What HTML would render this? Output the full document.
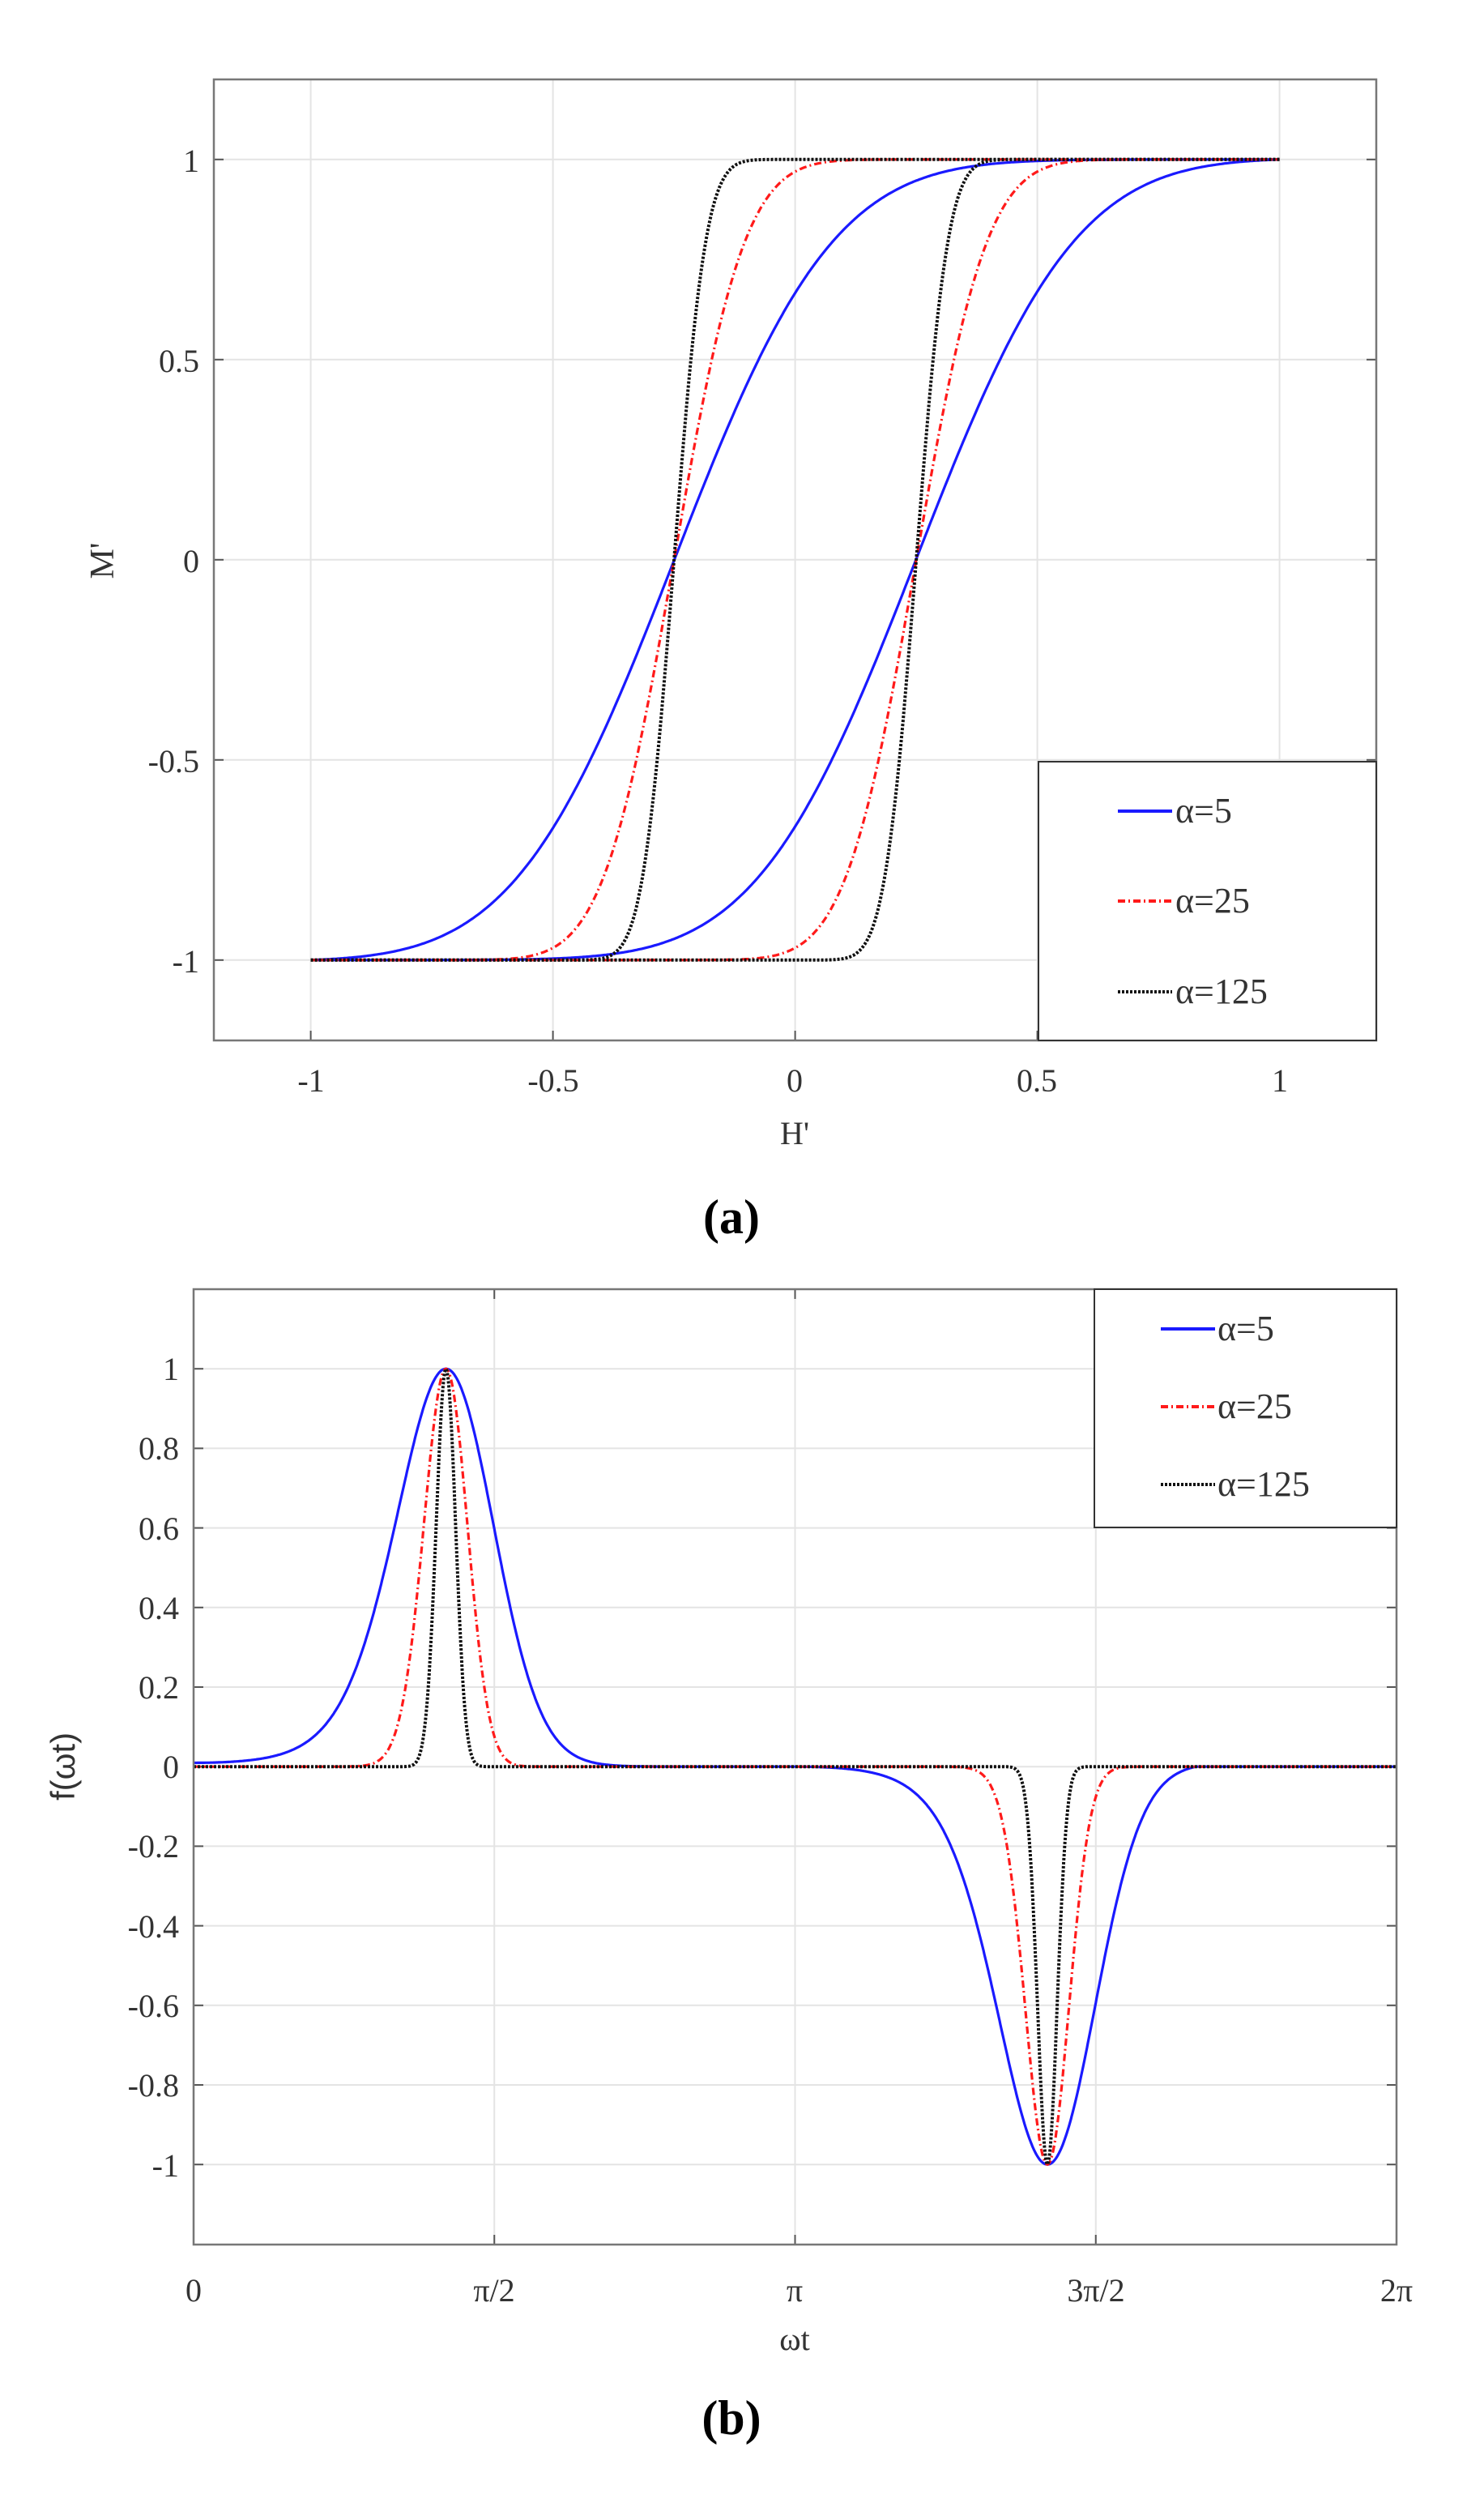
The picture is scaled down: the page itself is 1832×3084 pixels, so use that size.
<!DOCTYPE html>
<html><head><meta charset="utf-8"><style>
html,body{margin:0;padding:0;background:#fff}
svg{display:block}
text{font-family:"Liberation Serif",serif;fill:#333}
</style></head><body>
<svg id="s" width="1832" height="3084" xmlns="http://www.w3.org/2000/svg">
<rect width="1832" height="3084" fill="#fff"/>
<g id="g"></g>
<g font-size="40" text-anchor="end">
<text x="246" y="212">1</text><text x="246" y="459">0.5</text><text x="246" y="706">0</text><text x="246" y="953">-0.5</text><text x="246" y="1200">-1</text>
</g>
<g font-size="40" text-anchor="middle">
<text x="384" y="1347">-1</text><text x="683" y="1347">-0.5</text><text x="981" y="1347">0</text><text x="1280" y="1347">0.5</text><text x="1580" y="1347">1</text>
<text x="981" y="1412">H'</text>
</g>
<text font-size="42" text-anchor="middle" transform="translate(140,692) rotate(-90)">M'</text>
<text x="903" y="1522" font-size="60" font-weight="bold" text-anchor="middle" style="fill:#000">(a)</text>
<g font-size="44">
<text x="1451" y="1015">α=5</text><text x="1451" y="1126">α=25</text><text x="1451" y="1238">α=125</text>
</g>
<g font-size="40" text-anchor="end">
<text x="221" y="1703">1</text><text x="221" y="1801">0.8</text><text x="221" y="1900">0.6</text><text x="221" y="1998">0.4</text><text x="221" y="2096">0.2</text><text x="221" y="2194">0</text><text x="221" y="2292">-0.2</text><text x="221" y="2391">-0.4</text><text x="221" y="2489">-0.6</text><text x="221" y="2587">-0.8</text><text x="221" y="2686">-1</text>
</g>
<g font-size="40" text-anchor="middle">
<text x="239" y="2840">0</text><text x="610" y="2840">π/2</text><text x="981" y="2840">π</text><text x="1353" y="2840">3π/2</text><text x="1724" y="2840">2π</text>
<text x="981" y="2900">ωt</text>
</g>
<text font-size="42" text-anchor="middle" transform="translate(92,2180) rotate(-90)" style="font-family:'Liberation Sans',sans-serif">f(ωt)</text>
<text x="903" y="3004" font-size="60" font-weight="bold" text-anchor="middle" style="fill:#000">(b)</text>
<g font-size="44">
<text x="1503" y="1654">α=5</text><text x="1503" y="1750">α=25</text><text x="1503" y="1846">α=125</text>
</g>
</svg>
<script>
var NS="http://www.w3.org/2000/svg",g=document.getElementById("g");
function el(t,a){var e=document.createElementNS(NS,t);for(var k in a)e.setAttribute(k,a[k]);g.appendChild(e);return e;}
function erf(x){var s=x<0?-1:1;x=Math.abs(x);var t=1/(1+0.3275911*x);var y=1-(((((1.061405429*t-1.453152027)*t)+1.421413741)*t-0.284496736)*t+0.254829592)*t*Math.exp(-x*x);return s*y;}
var styles=[{a:5,c:"#1a1aff",d:"",w:3.2},{a:25,c:"#ff1a1a",d:"9,4,2,4",w:3.2},{a:125,c:"#111",d:"3,2",w:4}];
var C=1.5;
var L=264,R=1699,T=98,B=1284;
function xa(h){return L+(h+1.2)*598;} function ya(m){return T+(1.2-m)*494;}
[-1,-0.5,0,0.5,1].forEach(function(v){el("line",{x1:xa(v),x2:xa(v),y1:T,y2:B,stroke:"#e4e4e4","stroke-width":2});el("line",{x1:L,x2:R,y1:ya(v),y2:ya(v),stroke:"#e4e4e4","stroke-width":2});
el("line",{x1:xa(v),x2:xa(v),y1:B,y2:B-12,stroke:"#555","stroke-width":2});el("line",{x1:L,x2:L+12,y1:ya(v),y2:ya(v),stroke:"#555","stroke-width":2});el("line",{x1:R,x2:R-12,y1:ya(v),y2:ya(v),stroke:"#555","stroke-width":2});});
styles.forEach(function(s){var k=Math.sqrt(C*s.a);[0.25,-0.25].forEach(function(h0){
 var lo=erf(k*(-1+h0)),hi=erf(k*(1+h0)),p="";
 for(var i=0;i<=600;i++){var h=-1+2*i/600;var m=-1+2*(erf(k*(h+h0))-lo)/(hi-lo);p+=(i?"L":"M")+xa(h).toFixed(1)+","+ya(m).toFixed(1);}
 el("path",{d:p,fill:"none",stroke:s.c,"stroke-width":s.w,"stroke-dasharray":s.d});});});
el("rect",{x:L,y:T,width:R-L,height:B-T,fill:"none",stroke:"#777","stroke-width":2.5});
el("rect",{x:1282,y:940,width:R-1282,height:B-940,fill:"#fff",stroke:"#333","stroke-width":2});
[1001,1112,1224].forEach(function(y,i){el("line",{x1:1380,x2:1447,y1:y,y2:y,stroke:styles[i].c,"stroke-width":4,"stroke-dasharray":styles[i].d});});
var L2=239,R2=1724,T2=1591,B2=2770;
function xb(t){return L2+t/(2*Math.PI)*(R2-L2);} function yb(f){return T2+(1.2-f)*491;}
[1,0.8,0.6,0.4,0.2,0,-0.2,-0.4,-0.6,-0.8,-1].forEach(function(v){el("line",{x1:L2,x2:R2,y1:yb(v),y2:yb(v),stroke:"#e4e4e4","stroke-width":2});el("line",{x1:L2,x2:L2+12,y1:yb(v),y2:yb(v),stroke:"#555","stroke-width":2});el("line",{x1:R2,x2:R2-12,y1:yb(v),y2:yb(v),stroke:"#555","stroke-width":2});});
[0,1,2,3,4].forEach(function(i){var x=xb(i*Math.PI/2);el("line",{x1:x,x2:x,y1:T2,y2:B2,stroke:"#e4e4e4","stroke-width":2});el("line",{x1:x,x2:x,y1:B2,y2:B2-12,stroke:"#555","stroke-width":2});el("line",{x1:x,x2:x,y1:T2,y2:T2+12,stroke:"#555","stroke-width":2});});
styles.forEach(function(s){var ca=1.65*s.a,p="";
 var e1=Math.exp(-ca*1.5625),e2=Math.exp(-ca*0.5625);
 for(var i=0;i<=1500;i++){var t=2*Math.PI*i/1500,c=Math.cos(t),f;
 if(t<Math.PI)f=(Math.exp(-ca*(c-0.25)*(c-0.25))-e1)/(1-e1);else f=-(Math.max(0,Math.exp(-ca*(c+0.25)*(c+0.25))-e2))/(1-e2);
 p+=(i?"L":"M")+xb(t).toFixed(1)+","+yb(f).toFixed(1);}
 el("path",{d:p,fill:"none",stroke:s.c,"stroke-width":s.w,"stroke-dasharray":s.d});});
el("rect",{x:L2,y:T2,width:R2-L2,height:B2-T2,fill:"none",stroke:"#777","stroke-width":2.5});
el("rect",{x:1351,y:T2,width:R2-1351,height:1885-T2,fill:"#fff",stroke:"#333","stroke-width":2});
[1640,1736,1832].forEach(function(y,i){el("line",{x1:1433,x2:1500,y1:y,y2:y,stroke:styles[i].c,"stroke-width":4,"stroke-dasharray":styles[i].d});});
</script>
</body></html>
